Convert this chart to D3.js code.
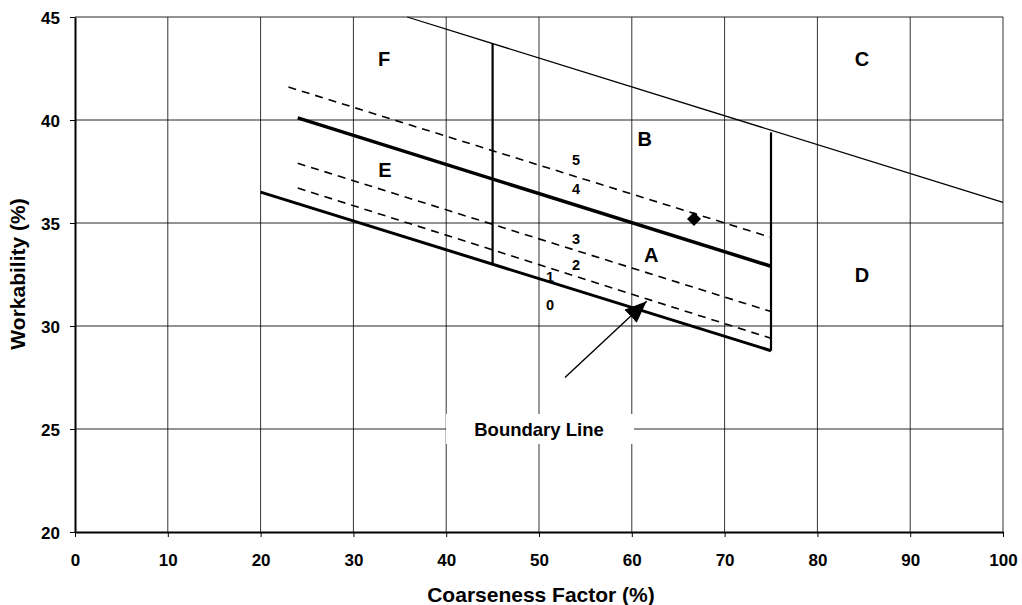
<!DOCTYPE html>
<html><head><meta charset="utf-8">
<script src="https://cdn.jsdelivr.net/npm/d3@7"></script>
<style>body{margin:0;background:#fff;}svg{display:block;font-family:"Liberation Sans",Arial,sans-serif;}</style>
</head><body>
<script>
// Data
const xTicks = [0,10,20,30,40,50,60,70,80,90,100];
const yTicks = [20,25,30,35,40,45];
const boundaryLine = [[20,36.5],[75,28.8]];        // line 0 (solid)
const line4 = [[24,40.1],[75,32.9]];               // line 4 (thick solid)
const line5 = [[23,41.6],[75,34.3]];               // dashed
const line3 = [[24,37.9],[75,30.7]];               // dashed
const line2 = [[24,36.7],[75,29.4]];               // dashed
const vLine45 = [[45,43.7],[45,33.0]];
const vLine75 = [[75,39.4],[75,28.8]];
const lineC = [[35.8,45],[100,36.0]];
const point = [[66.7,35.2]];
const zoneLabels = [["F",33.3,42.96],["C",84.8,42.96],["B",61.4,39.08],["E",33.4,37.57],["A",62.1,33.45],["D",84.8,32.48]];
const lineLabels = [["5",54,38.06],["4",54,36.65],["3",54,34.22],["2",54,32.96],["1",51.2,32.38],["0",51.2,31.02]];
const arrow = [[52.8,27.5],[61.6,31.2]];
const boundaryText = ["Boundary Line",50.0,25];

const W=1022,H=605;
const svg=d3.select("body").append("svg").attr("width",W).attr("height",H);
const x=d3.scaleLinear().domain([0,100]).range([75,1003]);
const y=d3.scaleLinear().domain([20,45]).range([532,17]);

// grid
svg.append("g").selectAll("line").data(xTicks.slice(1)).join("line")
  .attr("x1",d=>x(d)).attr("x2",d=>x(d)).attr("y1",y(45)).attr("y2",y(20))
  .attr("stroke","#000").attr("stroke-width",1).attr("stroke-opacity",0.8);
svg.append("g").selectAll("line").data(yTicks.slice(1)).join("line")
  .attr("y1",d=>y(d)).attr("y2",d=>y(d)).attr("x1",x(0)).attr("x2",x(100))
  .attr("stroke","#000").attr("stroke-width",1).attr("stroke-opacity",0.85);

// Boundary label box (white)
svg.append("rect").attr("x",446).attr("y",414).attr("width",188).attr("height",30).attr("fill","#fff");

// axes
const xAxis=svg.append("g").attr("transform",`translate(0,${y(20)})`)
  .call(d3.axisBottom(x).tickValues(xTicks).tickSize(5).tickPadding(17).tickSizeOuter(0));
const yAxis=svg.append("g").attr("transform",`translate(${x(0)},0)`)
  .call(d3.axisLeft(y).tickValues(yTicks).tickSize(5).tickPadding(10).tickSizeOuter(0));
[xAxis,yAxis].forEach(a=>{
  a.attr("font-family","Liberation Sans, Arial, sans-serif").attr("font-size",17);
  a.select(".domain").attr("stroke","#000").attr("stroke-width",2);
  a.selectAll(".tick line").attr("stroke","#000");
  a.selectAll("text").attr("font-size",17).attr("font-weight","bold").attr("fill","#000");
});
yAxis.selectAll("text").attr("dy","0.36em");

const line=d3.line().x(d=>x(d[0])).y(d=>y(d[1]));
const g=svg.append("g").attr("fill","none").attr("stroke","#000");
g.append("path").attr("d",line(lineC)).attr("stroke-width",1.3);
g.append("path").attr("d",line(boundaryLine)).attr("stroke-width",3);
g.append("path").attr("d",line(line4)).attr("stroke-width",3.5);
[line5,line3,line2].forEach(l=>g.append("path").attr("d",line(l)).attr("stroke-width",1.6).attr("stroke-dasharray","8,6"));
g.append("path").attr("d",line(vLine45)).attr("stroke-width",2.2);
g.append("path").attr("d",line(vLine75)).attr("stroke-width",2.2);

// arrow
const defs=svg.append("defs");
defs.append("marker").attr("id","ah").attr("viewBox","0 0 10 10").attr("refX",10).attr("refY",5)
  .attr("markerWidth",22).attr("markerHeight",18).attr("markerUnits","userSpaceOnUse").attr("orient","auto")
  .attr("preserveAspectRatio","none")
  .append("path").attr("d","M0,0L10,5L0,10Z").attr("fill","#000");
svg.append("path").attr("d",line(arrow)).attr("stroke","#000").attr("stroke-width",1.4).attr("fill","none").attr("marker-end","url(#ah)");

// point
svg.selectAll(".pt").data(point).join("path").attr("class","pt")
  .attr("transform",d=>`translate(${x(d[0])},${y(d[1])})`)
  .attr("d",d3.symbol().type(d3.symbolDiamond2).size(125)).attr("fill","#000");

// labels
svg.append("g").selectAll("text").data(zoneLabels).join("text")
  .attr("x",d=>x(d[1])).attr("y",d=>y(d[2])).attr("text-anchor","middle").attr("dy","0.36em")
  .attr("font-size",20).attr("font-weight","bold").text(d=>d[0]);
svg.append("g").selectAll("text").data(lineLabels).join("text")
  .attr("x",d=>x(d[1])).attr("y",d=>y(d[2])).attr("text-anchor","middle").attr("dy","0.36em")
  .attr("font-size",14.5).attr("font-weight","bold").text(d=>d[0]);
svg.append("text").attr("x",x(boundaryText[1])).attr("y",y(boundaryText[2])).attr("dy","0.36em")
  .attr("text-anchor","middle").attr("font-size",18.5).attr("font-weight","bold").text(boundaryText[0]);

// axis titles
svg.append("text").attr("x",541).attr("y",602).attr("text-anchor","middle").attr("font-size",21).attr("font-weight","bold").text("Coarseness Factor (%)");
svg.append("text").attr("transform","translate(25,274) rotate(-90)").attr("text-anchor","middle").attr("font-size",21).attr("font-weight","bold").text("Workability (%)");
</script>
</body></html>
